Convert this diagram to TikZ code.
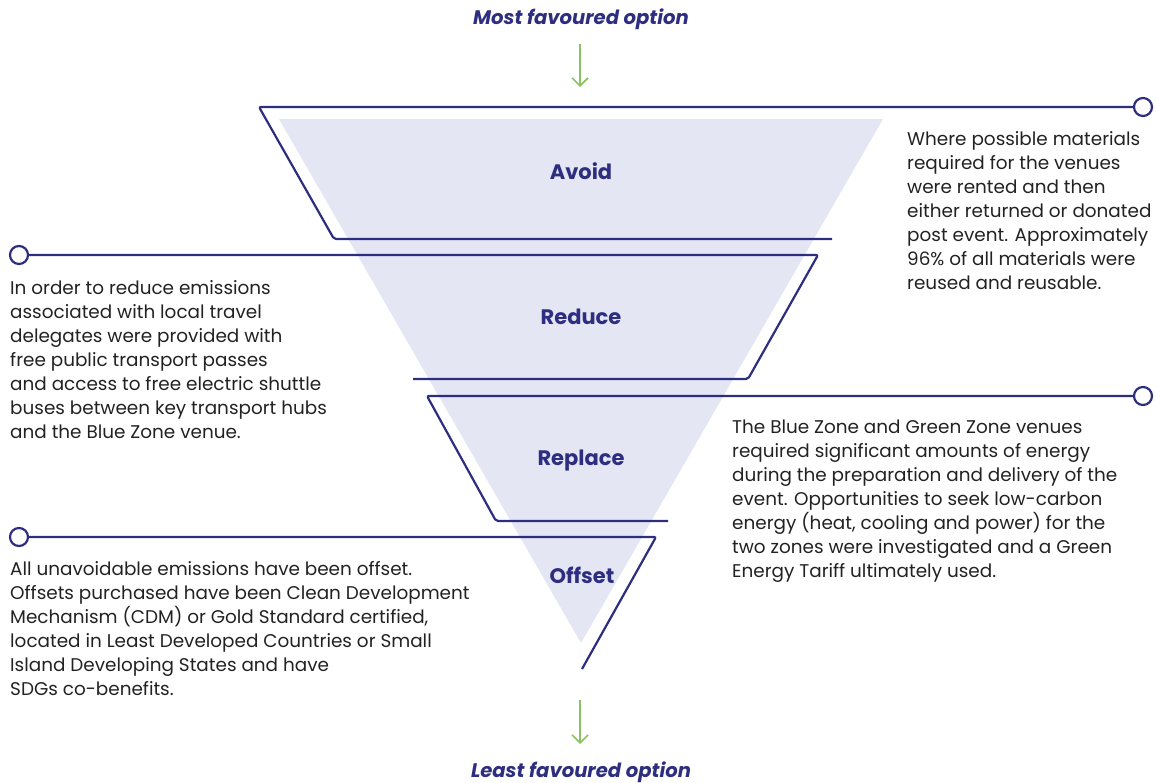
\documentclass[tikz,border=0pt]{standalone}
\usepackage{fontspec}
\setmainfont{Poppins}
\usetikzlibrary{arrows.meta}

\definecolor{navy}{RGB}{46,46,128}
\definecolor{lav}{RGB}{228,230,244}
\definecolor{leaf}{RGB}{139,195,96}
\definecolor{ink}{RGB}{34,34,34}

\begin{document}
\begin{tikzpicture}[x=1pt,y=-1pt,
  band/.style={draw=navy, line width=2.2pt, rounded corners=2pt},
  knob/.style={circle, draw=navy, line width=2.2pt, fill=white, minimum size=18pt, inner sep=0pt},
  tier/.style={font=\fontsize{21}{24}\selectfont\bfseries, text=navy, anchor=base, inner sep=0pt},
  note/.style={font=\fontsize{18.4}{24}\selectfont, text=ink, align=left, anchor=north west, inner sep=0pt},
  pref/.style={font=\fontsize{19.6}{22}\selectfont\bfseries\itshape, text=navy, anchor=base, inner sep=0pt},
  flow/.style={draw=leaf, line width=1.6pt, -{Straight Barb[length=8pt,width=16pt,line width=1.6pt]}}
]
\useasboundingbox (0,0) rectangle (1156,783);

% hierarchy triangle
\fill[lav] (279,119) -- (883,119) -- (581,643) -- cycle;

% end knobs of the tier outlines
\node[knob] (k1) at (1143,107) {};
\node[knob] (k2) at (19,255) {};
\node[knob] (k3) at (1143,396) {};
\node[knob] (k4) at (19,537) {};

% corner points of the outlines
\coordinate (a1) at (259,107);
\coordinate (a2) at (334,239);
\coordinate (a3) at (832,239);
\coordinate (r1) at (818,255);
\coordinate (r2) at (748,379);
\coordinate (r3) at (413,379);
\coordinate (p1) at (427,396);
\coordinate (p2) at (496,521);
\coordinate (p3) at (668,521);
\coordinate (o1) at (656,537);
\coordinate (o2) at (582,669);

\draw[band] (k1.west) -- (a1) -- (a2) -- (a3);
\draw[band] (k2.east) -- (r1) -- (r2) -- (r3);
\draw[band] (k3.west) -- (p1) -- (p2) -- (p3);
\draw[band] (k4.east) -- (o1) -- (o2);

% tier labels
\node[tier] (avoid) at (581,180) {Avoid};
\node[tier] (reduce) at (581,325) {Reduce};
\node[tier] (replace) at (581,465) {Replace};
\node[tier] (offset) at (582,583) {Offset};

% preference direction
\node[pref] (most) at (581,25) {Most favoured option};
\node[pref] (least) at (581,777) {Least favoured option};
\coordinate (f1) at (580,44);
\coordinate (f2) at (580,87);
\coordinate (g1) at (580,700);
\coordinate (g2) at (580,744);
\draw[flow] (f1) -- (f2);
\draw[flow] (g1) -- (g2);

% descriptions
\node[note] (navoid) at (907,131) {Where possible materials\\required for the venues\\were rented and then\\either returned or donated\\post event. Approximately\\96\% of all materials were\\reused and reusable.};
\node[note] (nreduce) at (10,280) {In order to reduce emissions\\associated with local travel\\delegates were provided with\\free public transport passes\\and access to free electric shuttle\\buses between key transport hubs\\and the Blue Zone venue.};
\node[note] (nreplace) at (732,420) {The Blue Zone and Green Zone venues\\required significant amounts of energy\\during the preparation and delivery of the\\event. Opportunities to seek low-carbon\\energy (heat, cooling and power) for the\\two zones were investigated and a Green\\Energy Tariff ultimately used.};
\node[note] (noffset) at (10,561) {All unavoidable emissions have been offset.\\Offsets purchased have been Clean Development\\Mechanism (CDM) or Gold Standard certified,\\located in Least Developed Countries or Small\\Island Developing States and have\\SDGs co-benefits.};
\end{tikzpicture}
\end{document}
